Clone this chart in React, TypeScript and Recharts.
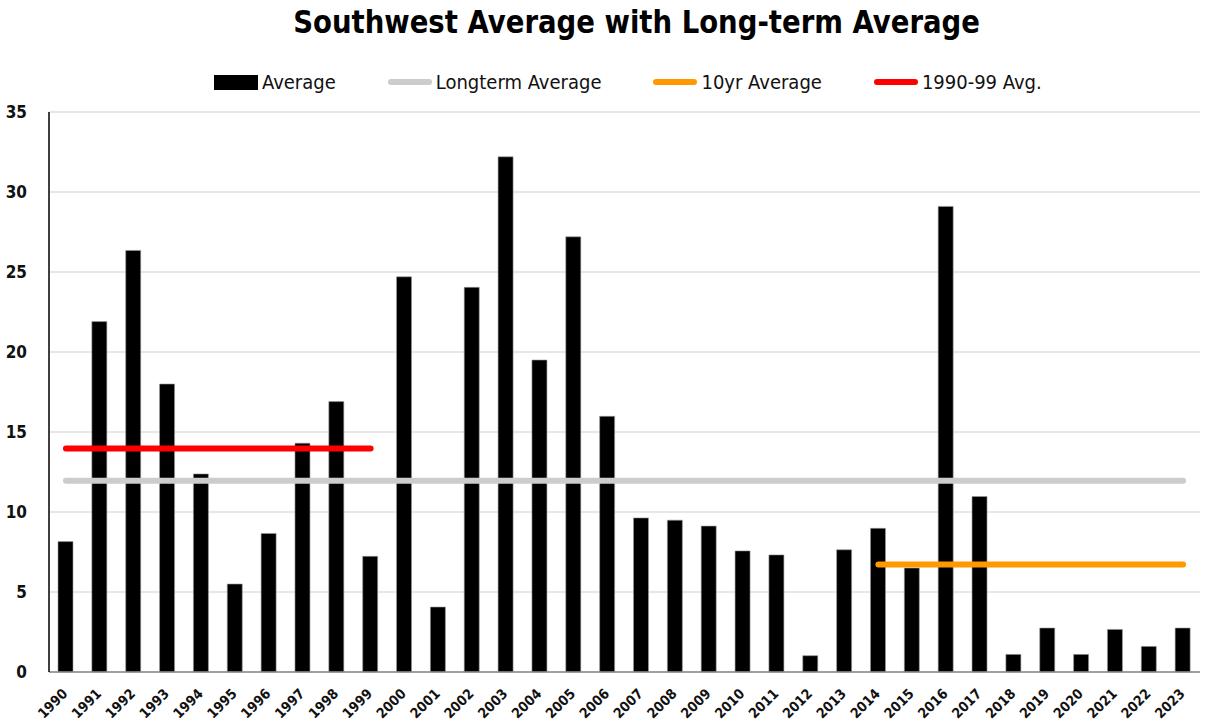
import { ComposedChart, Bar, Line, XAxis, YAxis, CartesianGrid } from 'recharts';

const years = [
  '1990', '1991', '1992', '1993', '1994', '1995', '1996', '1997', '1998', '1999',
  '2000', '2001', '2002', '2003', '2004', '2005', '2006', '2007', '2008', '2009',
  '2010', '2011', '2012', '2013', '2014', '2015', '2016', '2017', '2018', '2019',
  '2020', '2021', '2022', '2023',
];

const average = [
  8.15, 21.9, 26.35, 18.0, 12.38, 5.5, 8.66, 14.3, 16.9, 7.23,
  24.7, 4.06, 24.04, 32.2, 19.5, 27.2, 15.98, 9.63, 9.49, 9.12,
  7.57, 7.32, 1.02, 7.64, 8.98, 6.5, 29.1, 10.97, 1.1, 2.75,
  1.1, 2.66, 1.6, 2.75,
];

const longtermAvg = 11.95;
const ninetiesAvg = 13.97;
const tenYrAvg = 6.72;
const ninetiesYears = ['1990', '1991', '1992', '1993', '1994', '1995', '1996', '1997', '1998', '1999'];
const tenYrYears = ['2014', '2015', '2016', '2017', '2018', '2019', '2020', '2021', '2022', '2023'];

const yTicks = [0, 5, 10, 15, 20, 25, 30, 35];

const data = years.map((year, i) => ({
  year,
  average: average[i],
  longterm: longtermAvg,
  nineties: ninetiesYears.includes(year) ? ninetiesAvg : null,
  tenYr: tenYrYears.includes(year) ? tenYrAvg : null,
}));

const FONT = '"DejaVu Sans", sans-serif';
const NARROW = '"DejaVu Sans Condensed", "DejaVu Sans", sans-serif';

const legendItems = [
  { label: 'Average', color: '#000', kind: 'box' },
  { label: 'Longterm Average', color: '#cccccc', kind: 'line' },
  { label: '10yr Average', color: '#ff9900', kind: 'line' },
  { label: '1990-99 Avg.', color: '#ff0000', kind: 'line' },
];

function YearTick({ x, y, payload }: any) {
  return (
    <text
      x={x - 1}
      y={y + 11}
      transform={`rotate(-45, ${x - 1}, ${y + 11})`}
      textAnchor="end"
      dominantBaseline="central"
      fontFamily={NARROW}
      fontWeight="bold"
      fontSize={14}
      fill="#111"
    >
      {payload.value}
    </text>
  );
}

export default function App() {
  return (
    <div style={{ position: 'absolute', left: 0, top: 0, width: 1205, height: 727, background: '#fff', fontFamily: FONT }}>
      <div
        style={{
          position: 'absolute',
          top: 3,
          left: 0,
          width: 1273,
          textAlign: 'center',
          fontSize: 32,
          fontWeight: 'bold',
          color: '#000',
          transform: 'scaleX(0.86)',
          transformOrigin: '637px 0',
        }}
      >
        Southwest Average with Long-term Average
      </div>
      <div
        style={{
          position: 'absolute',
          top: 70,
          left: 214,
          display: 'flex',
          alignItems: 'center',
          fontFamily: NARROW,
          fontSize: 20,
          color: '#111',
        }}
      >
        {legendItems.map((item) => (
          <div key={item.label} style={{ display: 'flex', alignItems: 'center', marginRight: 52 }}>
            {item.kind === 'box' ? (
              <div style={{ width: 44, height: 15, background: item.color }} />
            ) : (
              <div style={{ width: 44, height: 6, borderRadius: 3, background: item.color }} />
            )}
            <span style={{ marginLeft: 4 }}>{item.label}</span>
          </div>
        ))}
      </div>
      <ComposedChart
        width={1205}
        height={727}
        data={data}
        margin={{ top: 112, right: 5, bottom: 0, left: 0 }}
      >
        <CartesianGrid vertical={false} stroke="#cfcfcf" strokeWidth={1} />
        <XAxis
          dataKey="year"
          interval={0}
          height={55}
          tickLine={false}
          axisLine={{ stroke: '#888', strokeWidth: 1.5 }}
          tick={<YearTick />}
        />
        <YAxis
          width={49}
          domain={[0, 35]}
          ticks={yTicks}
          tickLine={false}
          axisLine={{ stroke: '#000', strokeWidth: 1.5 }}
          tick={{ fontFamily: NARROW, fontWeight: 'bold', fontSize: 17, fill: '#111', dx: -14 }}
        />
        <Bar dataKey="average" fill="#000" stroke="#9a9a9a" strokeWidth={0.6} barSize={15} isAnimationActive={false} />
        <Line
          dataKey="longterm"
          stroke="#cccccc"
          strokeWidth={6}
          strokeLinecap="round"
          dot={false}
          isAnimationActive={false}
        />
        <Line
          dataKey="tenYr"
          stroke="#ff9900"
          strokeWidth={6}
          strokeLinecap="round"
          dot={false}
          connectNulls={false}
          isAnimationActive={false}
        />
        <Line
          dataKey="nineties"
          stroke="#ff0000"
          strokeWidth={6}
          strokeLinecap="round"
          dot={false}
          connectNulls={false}
          isAnimationActive={false}
        />
      </ComposedChart>
    </div>
  );
}
